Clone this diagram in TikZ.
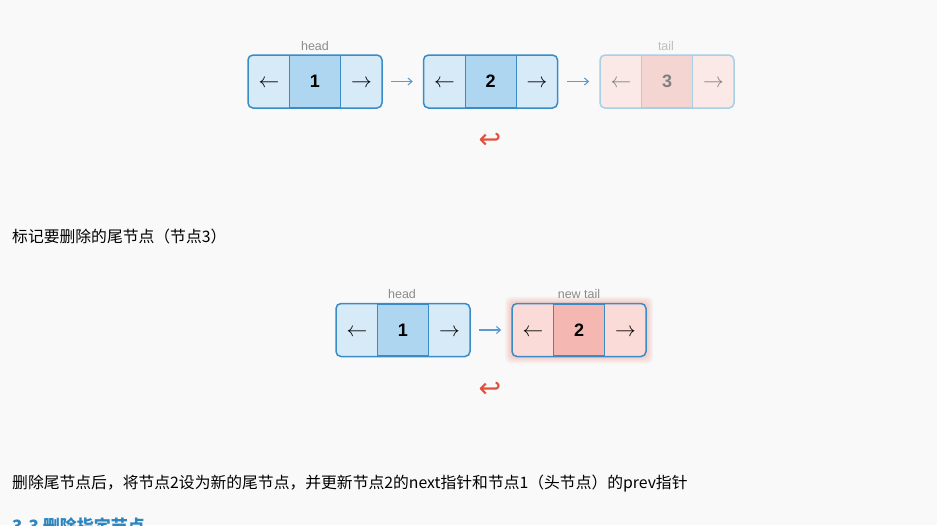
\documentclass[tikz,border=0pt]{standalone}
\usepackage{fontspec}
\setmainfont{Liberation Sans}
\newfontfamily\cjk{Noto Sans CJK SC}
\usetikzlibrary{calc}
\usetikzlibrary{arrows.meta}

\definecolor{bgpaper}{HTML}{F9F9F9}
\definecolor{boxblue}{HTML}{3A8CC7}
\definecolor{cellpale}{HTML}{D6EAF8}
\definecolor{cellmid}{HTML}{AED6F1}
\definecolor{fadeblue}{HTML}{A9CFE6}
\definecolor{fadepale}{HTML}{FBE9E8}
\definecolor{fademid}{HTML}{F5D5D2}
\definecolor{redpale}{HTML}{FADBD8}
\definecolor{redmid}{HTML}{F5B7B1}
\definecolor{glowred}{HTML}{F1948A}
\definecolor{arrowblue}{HTML}{5B9BD5}
\definecolor{undored}{HTML}{E0503C}
\definecolor{taggray}{HTML}{8A8A8A}
\definecolor{headblue}{HTML}{2E86C1}

\begin{document}
\begin{tikzpicture}[x=1pt, y=-1pt,
    listbox/.style={draw=boxblue, line width=1.5pt, rounded corners=5pt, minimum width=134pt, minimum height=53pt, inner sep=0pt, fill=cellpale},
    valcell/.style={draw=boxblue, line width=0.6pt, minimum width=51pt, minimum height=51.5pt, inner sep=0pt, fill=cellmid, font=\bfseries\fontsize{18}{18}\selectfont},
    ptr/.style={inner sep=0pt, font=\fontsize{21}{21}\selectfont},
    tag/.style={text=taggray, inner sep=0pt, font=\fontsize{12.5}{12.5}\selectfont},
    nextarrow/.style={draw=arrowblue, line width=1.1pt, -{Straight Barb[length=4pt,width=7pt]}},
    undo/.style={text=undored, inner sep=0pt, font=\fontsize{27}{27}\selectfont\fontspec{DejaVu Sans}},
    caption/.style={anchor=west, inner sep=0pt, font=\cjk\fontsize{15.8}{15.8}\selectfont}
  ]
    \fill [bgpaper] (0,0) rectangle (937,525);
    \useasboundingbox (0,0) rectangle (937,525);

    % list before the deletion
    \node [listbox] (a1) at (315, 81.5) {};
    \node [valcell] (a1v) at (a1.center) {1};
    \node [ptr] (a1p) at ($(a1.center)+(-46,2.5)$) {$\leftarrow$};
    \node [ptr] (a1n) at ($(a1.center)+(46.5,2.5)$) {$\rightarrow$};
    \node [tag] (a1t) at (315, 46) {head};

    \node [listbox] (a2) at (490.5, 81.5) {};
    \node [valcell] (a2v) at (a2.center) {2};
    \node [ptr] (a2p) at ($(a2.center)+(-46,2.5)$) {$\leftarrow$};
    \node [ptr] (a2n) at ($(a2.center)+(46.5,2.5)$) {$\rightarrow$};

    \node [listbox, draw=fadeblue, fill=fadepale] (a3) at (667, 81.5) {};
    \node [valcell, draw=fadeblue, fill=fademid, text=gray] (a3v) at (a3.center) {3};
    \node [ptr, text=gray] (a3p) at ($(a3.center)+(-46,2.5)$) {$\leftarrow$};
    \node [ptr, text=gray] (a3n) at ($(a3.center)+(46.5,2.5)$) {$\rightarrow$};
    \node [tag, text=taggray!55] (a3t) at (666, 46) {tail};

    \draw [nextarrow, shorten <=8pt, shorten >=10pt] (a1.east) -- (a2.west);
    \draw [nextarrow, shorten <=9pt, shorten >=10pt] (a2.east) -- (a3.west);

    \node [undo] (u1) at (490, 141) {↩};

    \node [caption] (c1) at (12, 236) {标记要删除的尾节点（节点3）};

    % list after the deletion
    \coordinate (m2c) at (579, 330);
    \foreach \g in {1,...,7}
        \fill [glowred, opacity=0.07, rounded corners=5pt]
            ($(m2c)+(-67-\g,26.5+\g)$) rectangle ($(m2c)+(67+\g,-26.5-\g)$);

    \node [listbox] (b1) at (403, 330) {};
    \node [valcell] (b1v) at (b1.center) {1};
    \node [ptr] (b1p) at ($(b1.center)+(-46,2.5)$) {$\leftarrow$};
    \node [ptr] (b1n) at ($(b1.center)+(46.5,2.5)$) {$\rightarrow$};
    \node [tag] (b1t) at (402, 294) {head};

    \node [listbox, fill=redpale] (b2) at (m2c) {};
    \node [valcell, fill=redmid] (b2v) at (b2.center) {2};
    \node [ptr] (b2p) at ($(b2.center)+(-46,2.5)$) {$\leftarrow$};
    \node [ptr] (b2n) at ($(b2.center)+(46.5,2.5)$) {$\rightarrow$};
    \node [tag] (b2t) at (579, 294) {new tail};

    \draw [nextarrow, shorten <=8pt, shorten >=10pt] (b1.east) -- (b2.west);

    \node [undo] (u2) at (490, 390) {↩};

    \node [caption] (c2) at (12, 484) {删除尾节点后，将节点2设为新的尾节点，并更新节点2的next指针和节点1（头节点）的prev指针};

    % heading of the next section, cut by the page edge
    \node [anchor=north west, inner sep=0pt, text=headblue, font=\cjk\bfseries\fontsize{17}{17}\selectfont] (h3) at (12, 518) {3.3 删除指定节点};
\end{tikzpicture}
\end{document}
